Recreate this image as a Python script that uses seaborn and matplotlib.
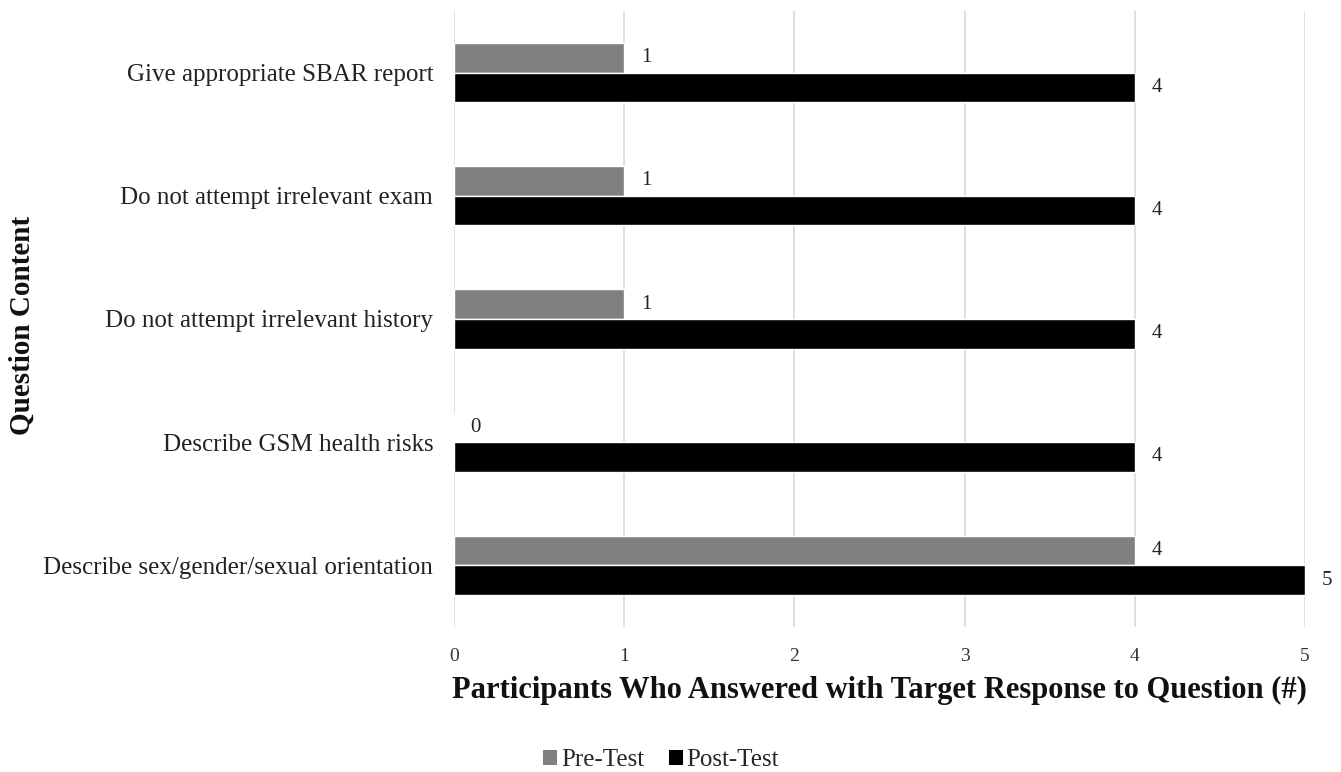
import matplotlib
matplotlib.use("Agg")
import matplotlib.pyplot as plt
import pandas as pd
import seaborn as sns
from matplotlib.patches import Patch

# Data
QUESTIONS = [
    "Give appropriate SBAR report",
    "Do not attempt irrelevant exam",
    "Do not attempt irrelevant history",
    "Describe GSM health risks",
    "Describe sex/gender/sexual orientation",
]
PRE_TEST = [1, 1, 1, 0, 4]
POST_TEST = [4, 4, 4, 4, 5]
SERIES = ["Pre-Test", "Post-Test"]
COLORS = {"Pre-Test": "#808080", "Post-Test": "#000000"}


def build_frame() -> pd.DataFrame:
    rows = []
    for q, pre, post in zip(QUESTIONS, PRE_TEST, POST_TEST):
        rows.append({"question": q, "test": "Pre-Test", "count": pre})
        rows.append({"question": q, "test": "Post-Test", "count": post})
    return pd.DataFrame(rows)


def main() -> None:
    sns.set_style("white")
    plt.rcParams["font.family"] = ["Liberation Serif", "DejaVu Serif"]

    df = build_frame()
    fig = plt.figure(figsize=(13.41, 7.72), dpi=100)
    ax = fig.add_axes([0.3386, 0.1878, 0.6346, 0.798])

    sns.barplot(data=df, x="count", y="question", hue="test", order=QUESTIONS,
                hue_order=SERIES, palette=COLORS, orient="h", width=0.48,
                errorbar=None, ax=ax, legend=False, zorder=3)

    for container in ax.containers:
        ax.bar_label(container, padding=12, fontsize=15, color="#222222")

    ax.set_xlim(0, 5)
    ax.set_xticks(range(6))
    ax.grid(axis="x", color="#d9d9d9", linewidth=1.2, zorder=0)
    ax.grid(axis="y", visible=False)
    for spine in ax.spines.values():
        spine.set_visible(False)
    ax.tick_params(axis="x", length=0, pad=15, labelsize=14, labelcolor="#333333")
    ax.tick_params(axis="y", length=0, pad=15, labelsize=18, labelcolor="#222222")

    ax.set_xlabel("Participants Who Answered with Target Response to Question (#)",
                  fontsize=22, fontweight="bold", labelpad=8, color="#111111")
    ax.set_ylabel("Question Content", fontsize=21, fontweight="bold", color="#111111")
    ax.yaxis.set_label_coords(-0.492, 0.49)

    handles = [Patch(facecolor=COLORS[s], edgecolor="none") for s in SERIES]
    fig.legend(handles, SERIES, loc="center", bbox_to_anchor=(0.493, 0.0155),
               ncol=2, frameon=False, fontsize=18, handlelength=0.55,
               handleheight=0.55, handletextpad=0.15, columnspacing=1.0)

    fig.savefig("out.png", dpi=100)


if __name__ == "__main__":
    main()
